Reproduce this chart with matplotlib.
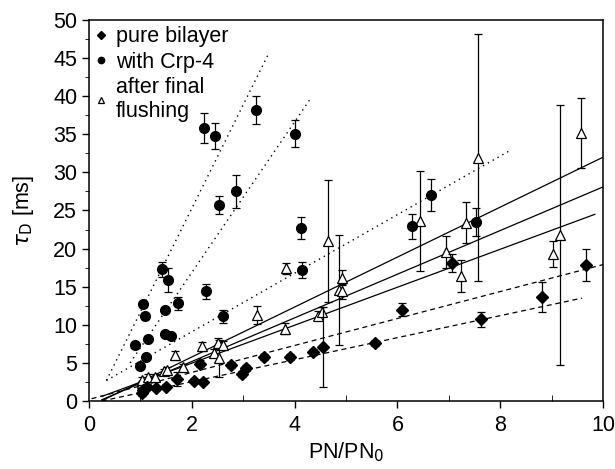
import numpy as np
import matplotlib
matplotlib.use('Agg')
import matplotlib.pyplot as plt
from matplotlib.ticker import MultipleLocator

plt.rcParams['font.family'] = ['Liberation Sans', 'DejaVu Sans']

# pure bilayer (diamonds)
bil_x = [1.04, 1.05, 1.12, 1.30, 1.49, 1.71, 2.04, 2.22, 2.16, 2.77, 2.98, 3.05,
         3.41, 3.91, 4.35, 4.56, 5.57, 6.08, 7.06, 7.63, 8.82, 9.67]
bil_y = [1.0, 1.5, 1.9, 1.7, 1.9, 2.9, 2.6, 2.5, 4.9, 4.7, 3.6, 4.3,
         5.8, 5.8, 6.4, 7.1, 7.6, 12.0, 18.1, 10.7, 13.6, 17.9]
bil_e = [0.3, 0.3, 0.3, 0.3, 0.3, 0.9, 0.3, 0.3, 0.5, 0.4, 0.4, 0.4,
         0.4, 0.4, 0.4, 5.3, 0.4, 0.9, 1.2, 1.0, 1.95, 2.1]

# with Crp-4 (circles)
crp_x = [0.90, 1.00, 1.06, 1.09, 1.10, 1.14, 1.42, 1.47, 1.48, 1.54, 1.59, 1.73,
         2.24, 2.28, 2.45, 2.52, 2.60, 2.85, 3.25, 4.00, 4.12, 4.14, 6.28, 6.65, 7.52]
crp_y = [7.3, 4.6, 12.7, 11.1, 5.8, 8.2, 17.3, 8.8, 11.9, 15.9, 8.5, 12.8,
         35.8, 14.4, 34.8, 25.7, 11.1, 27.5, 38.2, 35.1, 22.7, 17.2, 22.9, 27.0, 23.5]
crp_e = [0.3, 0.3, 0.3, 0.3, 0.3, 0.3, 1.0, 0.3, 0.3, 1.6, 0.3, 0.9,
         2.0, 1.0, 1.7, 1.2, 0.9, 2.2, 1.8, 1.8, 1.4, 1.0, 1.7, 2.1, 1.8]

# after final flushing (open triangles)
fl_x = [1.03, 1.04, 1.15, 1.29, 1.45, 1.51, 1.68, 1.82, 2.19, 2.43, 2.50, 2.52,
        2.60, 3.26, 3.82, 3.84, 4.45, 4.53, 4.65, 4.87, 4.93, 4.93, 6.44, 6.95,
        7.24, 7.34, 7.57, 9.03, 9.16, 9.57]
fl_y = [2.3, 2.8, 3.2, 3.2, 3.9, 4.1, 6.0, 4.5, 7.2, 6.3, 7.6, 5.6,
        7.4, 11.3, 9.5, 17.4, 11.2, 11.7, 21.0, 14.6, 16.2, 14.4, 23.6, 19.6,
        16.4, 23.4, 31.9, 19.3, 21.8, 35.2]
fl_e = [0.3, 0.3, 0.3, 0.3, 0.3, 0.3, 0.6, 0.4, 0.6, 0.5, 0.7, 2.4,
        0.5, 1.2, 0.7, 0.7, 0.6, 0.6, 8.0, 7.2, 1.0, 1.0, 6.6, 2.1,
        2.1, 2.7, 16.2, 1.7, 17.1, 4.6]

# fitted lines, end points
solid_x = [[0.25, 10.0], [0.25, 10.0], [0.25, 9.84]]
solid_y = [[0.04, 32.0], [0.17, 28.1], [0.6, 24.5]]
dash_x = [[0.05, 10.0], [0.25, 9.59]]
dash_y = [[0.3, 17.9], [0.0, 13.5]]
dot_x = [[0.34, 3.48], [0.8, 4.3], [0.34, 8.17]]
dot_y = [[2.7, 45.4], [5.0, 39.6], [2.7, 32.8]]

fig = plt.figure(figsize=(6.15, 4.69), dpi=100)
ax = fig.add_axes([0.1447, 0.145, 0.836, 0.8124])

for xs, ys in zip(solid_x, solid_y):
    ax.plot(xs, ys, 'k-', lw=0.9)
for xs, ys in zip(dash_x, dash_y):
    ax.plot(xs, ys, 'k--', lw=0.9, dashes=(4, 3))
for xs, ys in zip(dot_x, dot_y):
    ax.plot(xs, ys, 'k:', lw=1.0, dashes=(1, 3))

eb = dict(ecolor='k', elinewidth=0.9, capsize=3, capthick=0.9, ls='none')
ax.errorbar(fl_x, fl_y, yerr=fl_e, fmt='^', ms=7.5, mfc='white', mec='k',
            mew=0.9, label='after final\nflushing', zorder=3, **eb)
ax.errorbar(crp_x, crp_y, yerr=crp_e, fmt='o', ms=7, color='k',
            label='with Crp-4', zorder=4, **eb)
ax.errorbar(bil_x, bil_y, yerr=bil_e, fmt='D', ms=6.5, color='k',
            label='pure bilayer', zorder=5, **eb)

ax.set_xlim(0, 10)
ax.set_ylim(0, 50)
ax.xaxis.set_major_locator(MultipleLocator(2))
ax.xaxis.set_minor_locator(MultipleLocator(1))
ax.yaxis.set_major_locator(MultipleLocator(5))
ax.yaxis.set_minor_locator(MultipleLocator(2.5))
ax.tick_params(axis='both', which='major', labelsize=15.5, length=5, width=1)
ax.tick_params(axis='x', which='major', pad=5)
ax.tick_params(axis='y', which='minor', length=3, direction='out')
ax.tick_params(axis='x', which='minor', length=4, direction='in')
for s in ax.spines.values():
    s.set_linewidth(1.1)

ax.set_xlabel('PN/PN$_0$', fontsize=15.5, labelpad=3)
ax.set_ylabel(r'$\tau_\mathrm{D}$ [ms]', fontsize=15.5, labelpad=12)

h, l = ax.get_legend_handles_labels()
h = [x[0] for x in h[::-1]]
leg = ax.legend(h, l[::-1], loc='upper left', frameon=False, fontsize=15.5,
                handlelength=0.5, handletextpad=0.45, labelspacing=0.2,
                borderaxespad=0.1, borderpad=0.2, markerscale=0.65)

plt.savefig('out.png', dpi=100)
